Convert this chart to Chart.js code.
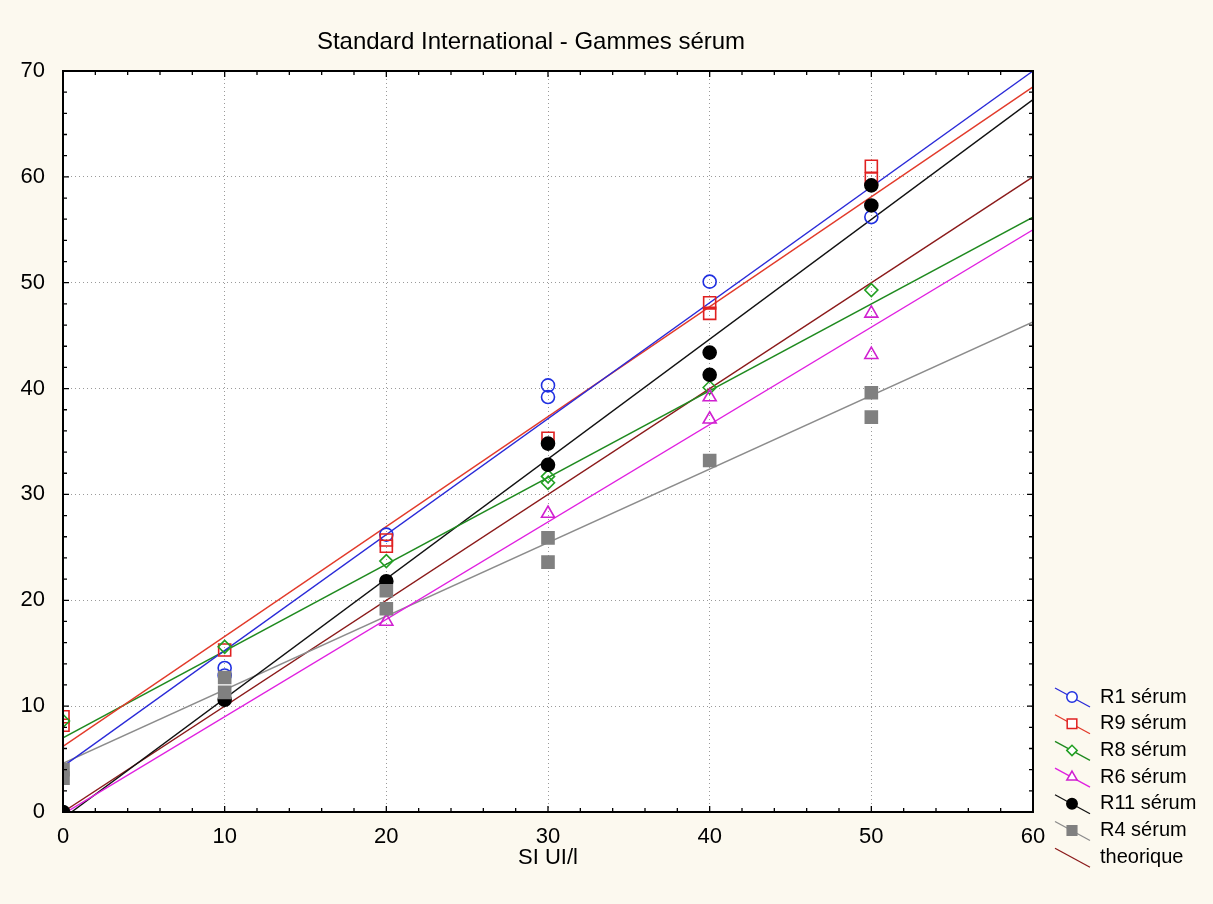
<!DOCTYPE html>
<html>
<head>
<meta charset="utf-8">
<script src="https://cdn.jsdelivr.net/npm/chart.js@4.4.0/dist/chart.umd.min.js"></script>
<style>
  html, body { margin: 0; padding: 0; background: #fcf9ef; }
  #wrap { width: 1213px; height: 904px; position: relative; }
</style>
</head>
<body>
<div id="wrap"><canvas id="chart"></canvas></div>
<script>
const chartTitle = 'Standard International - Gammes sérum';
const xAxisLabel = 'SI UI/l';
const xTicks = [0, 10, 20, 30, 40, 50, 60];
const yTicks = [0, 10, 20, 30, 40, 50, 60, 70];

// concentrations, two replicates per level (null = not visible)
const conc = [0, 10, 20, 30, 40, 50];

const r1A = [null, 13.6, 26.2, 40.3, 50.1, 56.2];
const r1B = [null, 12.9, null, 39.2, null, null];
const r9A = [9.0, 15.3, 25.7, 35.3, 48.1, 61.0];
const r9B = [8.2, null, 25.1, null, 47.1, 59.8];
const r8A = [8.6, 15.6, 23.7, 31.7, 40.1, 49.3];
const r8B = [null, null, null, 31.1, null, null];
const r6A = [null, null, 18.0, 28.2, 39.2, 47.1];
const r6B = [null, null, null, null, 37.1, 43.2];
const r11A = [0.0, 10.6, 21.8, 34.8, 43.4, 59.2];
const r11B = [null, null, null, 32.8, 41.3, 57.3];
const r4A = [4.0, 12.7, 20.9, 25.9, 33.2, 39.6];
const r4B = [3.2, 11.3, 19.2, 23.6, null, 37.3];

// fitted lines, read at both ends of the x axis
const fitX = [0, 60];
const r1Fit = [4.3, 70.0];
const r9Fit = [6.2, 68.5];
const r8Fit = [7.0, 56.2];
const r6Fit = [-0.2, 55.0];
const r11Fit = [-0.6, 67.3];
const r4Fit = [4.6, 46.3];
const theoFit = [0, 60];

const series = [
  { label: 'R1 sérum', reps: [r1A, r1B], fit: r1Fit, line: '#2a2ad8', mark: '#1f2fe0', style: 'circle', r: 6.5, open: true },
  { label: 'R9 sérum', reps: [r9A, r9B], fit: r9Fit, line: '#e23a2a', mark: '#e02020', style: 'rect', r: 8.5, open: true },
  { label: 'R8 sérum', reps: [r8A, r8B], fit: r8Fit, line: '#1f8a1f', mark: '#22a022', style: 'rectRot', r: 6.5, open: true },
  { label: 'R6 sérum', reps: [r6A, r6B], fit: r6Fit, line: '#e020e0', mark: '#d020d0', style: 'triangle', r: 7.5, open: true },
  { label: 'R11 sérum', reps: [r11A, r11B], fit: r11Fit, line: '#111111', mark: '#000000', style: 'circle', r: 6.5, open: false },
  { label: 'R4 sérum', reps: [r4A, r4B], fit: r4Fit, line: '#8c8c8c', mark: '#808080', style: 'rect', r: 8.5, open: false },
  { label: 'theorique', reps: [], fit: theoFit, line: '#8b1a1a', mark: null, style: false, r: 0, open: false }
];

function points(arr) {
  return conc.map((x, i) => ({ x: x, y: arr[i] })).filter(p => p.y !== null);
}

const datasets = [];
series.forEach((s, i) => {
  datasets.push({
    data: fitX.map((x, k) => ({ x: x, y: s.fit[k] })),
    showLine: true,
    borderColor: s.line,
    borderWidth: 1.4,
    pointRadius: 0,
    order: 20 + i
  });
  if (s.reps.length) {
    datasets.push({
      data: points(s.reps[0]).concat(points(s.reps[1])),
      showLine: false,
      pointStyle: s.style,
      pointRadius: s.r,
      pointBorderWidth: 1.6,
      borderColor: s.mark,
      backgroundColor: s.open ? 'rgba(0,0,0,0)' : s.mark,
      order: 10 - i
    });
  }
});

const decor = {
  id: 'decor',
  beforeDraw(chart) {
    const { ctx, chartArea: a } = chart;
    ctx.save();
    ctx.fillStyle = '#fcf9ef';
    ctx.fillRect(0, 0, chart.width, chart.height);
    ctx.fillStyle = '#ffffff';
    ctx.fillRect(a.left, a.top, a.right - a.left, a.bottom - a.top);
    ctx.restore();
  },
  afterDraw(chart) {
    const { ctx, chartArea: a } = chart;
    const xs = chart.scales.x, ys = chart.scales.y;
    ctx.save();
    // frame
    ctx.strokeStyle = '#000';
    ctx.lineWidth = 2;
    ctx.strokeRect(a.left, a.top, a.right - a.left, a.bottom - a.top);
    // inward ticks every 2 units
    ctx.lineWidth = 1.3;
    ctx.beginPath();
    for (let v = 0; v <= 60; v += 2) {
      const px = xs.getPixelForValue(v);
      const len = v % 10 === 0 ? 6 : 4;
      ctx.moveTo(px, a.bottom); ctx.lineTo(px, a.bottom - len);
      ctx.moveTo(px, a.top); ctx.lineTo(px, a.top + len);
    }
    for (let v = 0; v <= 70; v += 2) {
      const py = ys.getPixelForValue(v);
      const len = v % 10 === 0 ? 6 : 4;
      ctx.moveTo(a.left, py); ctx.lineTo(a.left + len, py);
      ctx.moveTo(a.right, py); ctx.lineTo(a.right - len, py);
    }
    ctx.stroke();

    // title
    ctx.fillStyle = '#000';
    ctx.font = '24px "Liberation Sans", Arial, sans-serif';
    ctx.textAlign = 'center';
    ctx.textBaseline = 'middle';
    ctx.fillText(chartTitle, 531, 42);

    // legend
    ctx.font = '20px "Liberation Sans", Arial, sans-serif';
    ctx.textAlign = 'left';
    series.forEach((s, i) => {
      const y = 697 + i * 26.7;
      ctx.strokeStyle = s.line;
      ctx.lineWidth = 1.3;
      ctx.beginPath();
      ctx.moveTo(1055, y - 9); ctx.lineTo(1090, y + 10);
      ctx.stroke();
      if (s.style) {
        ctx.strokeStyle = s.mark;
        ctx.fillStyle = s.open ? '#ffffff' : s.mark;
        ctx.lineWidth = 1.5;
        Chart.helpers.drawPoint(ctx, { pointStyle: s.style, radius: s.r * 0.8, borderWidth: 1.5, rotation: 0 }, 1072, y);
      }
      ctx.fillStyle = '#000';
      ctx.fillText(s.label, 1100, y);
    });
    ctx.restore();
  }
};

new Chart(document.getElementById('chart'), {
  type: 'scatter',
  data: { datasets: datasets },
  plugins: [decor],
  options: {
    responsive: true,
    maintainAspectRatio: false,
    animation: false,
    layout: { padding: { left: 0, right: 180, top: 71, bottom: 0 } },
    plugins: { legend: { display: false }, tooltip: { enabled: false }, title: { display: false } },
    scales: {
      x: {
        type: 'linear',
        min: xTicks[0], max: xTicks[xTicks.length - 1],
        afterBuildTicks: s => { s.ticks = xTicks.map(v => ({ value: v })); },
        afterFit: s => { s.height = 92; },
        grid: { color: '#9a9a9a', lineWidth: 1, drawTicks: false },
        border: { display: false, dash: [1, 3] },
        ticks: { color: '#000', padding: 12, font: { family: '"Liberation Sans", Arial, sans-serif', size: 22 } },
        title: { display: true, text: xAxisLabel, color: '#000', padding: { top: 0, bottom: 33 }, font: { family: '"Liberation Sans", Arial, sans-serif', size: 22 } }
      },
      y: {
        type: 'linear',
        min: yTicks[0], max: yTicks[yTicks.length - 1],
        afterBuildTicks: s => { s.ticks = yTicks.map(v => ({ value: v })); },
        afterFit: s => { s.width = 63; },
        grid: { color: '#9a9a9a', lineWidth: 1, drawTicks: false },
        border: { display: false, dash: [1, 3] },
        ticks: { color: '#000', padding: 18, font: { family: '"Liberation Sans", Arial, sans-serif', size: 22 } }
      }
    }
  }
});
</script>
</body>
</html>
